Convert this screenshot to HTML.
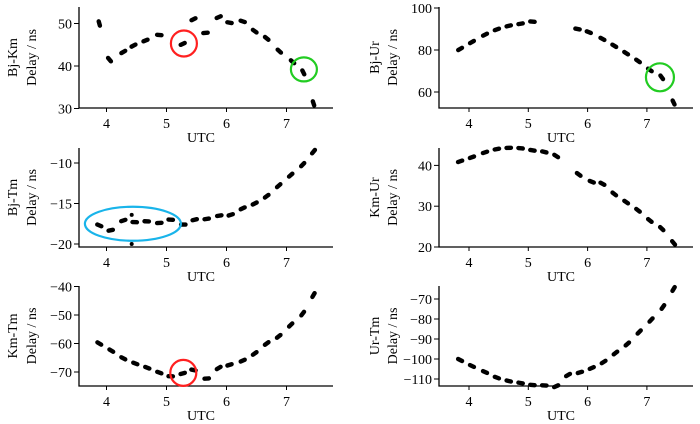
<!DOCTYPE html>
<html><head><meta charset="utf-8"><style>
html,body{margin:0;padding:0;background:#fff;}
svg{display:block;font-family:"Liberation Serif",serif;}
</style></head><body>
<svg id="chart" width="700" height="424" viewBox="0 0 700 424"></svg>
<script>
const xTicks=[4,5,6,7];
const bjKmX=[3.88,4.05,4.28,4.45,4.65,4.88,5.27,5.45,5.65,5.87,6.05,6.27,6.47,6.67,6.88,7.1,7.28,7.45];
const bjKmY=[50,41.5,43.3,44.8,46,47.3,45.2,51,47.8,51.5,50.2,50.5,48.2,46.5,43.5,41,38.5,31.2];
const bjTmX=[3.88,4.07,4.28,4.47,4.67,4.88,5.07,5.28,5.47,5.67,5.88,6.07,6.27,6.47,6.67,6.87,7.07,7.27,7.45];
const bjTmY=[-17.7,-18.3,-17.1,-17.3,-17.2,-17.4,-17,-17.6,-17,-16.9,-16.5,-16.4,-15.6,-15,-14.1,-12.8,-11.5,-10.2,-8.6];
const bjTmDotX=[4.42,4.42];
const bjTmDotY=[-16.4,-20];
const kmTmX=[3.88,4.08,4.28,4.48,4.68,4.88,5.07,5.27,5.45,5.67,5.87,6.05,6.27,6.47,6.67,6.87,7.07,7.27,7.45];
const kmTmY=[-60,-62.5,-65.2,-67,-68.5,-70.2,-71.5,-70.5,-69.3,-72.3,-68.6,-67.5,-66,-63.5,-60,-57.5,-53.5,-49.5,-43];
const bjUrX=[3.85,4.05,4.27,4.47,4.67,4.87,5.07,5.83,6.02,6.25,6.45,6.65,6.85,7.05,7.25,7.45];
const bjUrY=[80.5,83.8,87.3,89.8,91.5,92.5,93.5,90,88.5,85.3,82,78.5,74.8,70.5,67,55];
const kmUrX=[3.85,4.05,4.27,4.47,4.67,4.87,5.07,5.27,5.47,5.85,6.07,6.25,6.45,6.65,6.85,7.05,7.25,7.45];
const kmUrY=[41,42,43.2,44,44.3,44.2,43.7,43.3,42.3,37.8,36,35.5,33,31,29,26.5,24.5,21];
const urTmX=[3.85,4.05,4.27,4.47,4.67,4.87,5.07,5.27,5.47,5.67,5.87,6.07,6.27,6.47,6.67,6.87,7.07,7.27,7.45];
const urTmY=[-100.5,-103.5,-106.5,-109.3,-111,-112,-113,-113.2,-113.6,-108,-106.7,-104.5,-101.5,-97,-92.5,-86.5,-80.5,-74,-65];
const ticksBjKm=[30,40,50];
const ticksBjTm=[-20,-15,-10];
const ticksKmTm=[-70,-60,-50,-40];
const ticksBjUr=[60,80,100];
const ticksKmUr=[20,30,40];
const ticksUrTm=[-110,-100,-90,-80,-70];

const NS='http://www.w3.org/2000/svg';
const svg=document.getElementById('chart');
function mk(tag,attrs,parent){const e=document.createElementNS(NS,tag);for(const k in attrs)e.setAttribute(k,attrs[k]);(parent||svg).appendChild(e);return e;}

function panel(o){
  const g=mk('g',{});
  
  
  const sx=v=>o.x0+(v-4)*o.xs;
  const sy=v=>o.yb-(v-o.vb)*o.ys;
  const ax=mk('path',{d:`M${o.left} ${o.top} V${o.bottom} H${o.right}`,stroke:'#000','stroke-width':1.3,fill:'none'},g);
  
  
  xTicks.forEach(t=>{
    const X=sx(t);
    mk('line',{x1:X,y1:o.bottom,x2:X,y2:o.bottom+4,stroke:'#000','stroke-width':1},g);
    const tx=mk('text',{x:X,y:o.bottom+20,'font-size':14,'text-anchor':'middle'},g);
    tx.textContent=t;
    
    
  });
  o.yt.forEach(t=>{
    const Y=sy(t);
    mk('line',{x1:o.left-5,y1:Y,x2:o.left,y2:Y,stroke:'#000','stroke-width':1},g);
    const tx=mk('text',{x:o.left-7,y:Y+5,'font-size':14,'text-anchor':'end'},g);
    tx.textContent=(t<0?'\u2212'+(-t):t);
    
    
  });
  const xl=mk('text',{x:(o.left+o.right)/2-5,y:o.bottom+34,'font-size':14,'text-anchor':'middle'},g);
  xl.textContent='UTC';
  
  
  const cy=(o.top+o.bottom)/2;
  const l1=mk('text',{x:0,y:0,'font-size':14,'text-anchor':'middle',transform:`translate(${o.lx1},${cy}) rotate(-90)`},g);
  l1.textContent=o.label;
  
  
  const l2=mk('text',{x:0,y:0,'font-size':14,'text-anchor':'middle',transform:`translate(${o.lx2},${cy}) rotate(-90)`},g);
  l2.textContent='Delay / ns';
  
  
  const P=o.xd.map((v,i)=>[sx(v),sy(o.yd[i])]);
  P.forEach((p,i)=>{
    const a=P[Math.max(0,i-1)],b=P[Math.min(P.length-1,i+1)];
    let dx=b[0]-a[0],dy=b[1]-a[1];const L=Math.hypot(dx,dy)||1;dx/=L;dy/=L;
    const h=2.2;
    const m=mk('line',{x1:p[0]-dx*h,y1:p[1]-dy*h,x2:p[0]+dx*h,y2:p[1]+dy*h,stroke:'#000','stroke-width':4.4,'stroke-linecap':'round'},g);
    
    
  });
  if(o.dx){o.dx.forEach((v,i)=>{
    const d=mk('circle',{cx:sx(v),cy:sy(o.dy[i]),r:2,fill:'#000'},g);
    
    
  });}
  (o.marks||[]).forEach(c=>{
    const e=mk('ellipse',{cx:sx(c.x),cy:sy(c.y),rx:c.rx,ry:c.ry,fill:'none',stroke:c.col,'stroke-width':2.2},g);
    
    
  });
}
const L={left:79,right:333,x0:106.5,xs:60,lx1:17,lx2:36};
const R={left:439,right:693,x0:469,xs:59.3,lx1:379,lx2:397};
panel(Object.assign({},L,{name:'bj-km',label:'Bj-Km',top:7,bottom:108,yb:108.5,vb:30,ys:4.25,yt:ticksBjKm,xd:bjKmX,yd:bjKmY,
  marks:[{x:5.29,y:45.3,rx:13,ry:13,col:'#ff2020',nm:'red-circle-highlight'},{x:7.29,y:39.2,rx:13,ry:12,col:'#22cc22',nm:'green-circle-highlight'}]}));
panel(Object.assign({},L,{name:'bj-tm',label:'Bj-Tm',top:148,bottom:247,yb:244,vb:-20,ys:8.1,yt:ticksBjTm,xd:bjTmX,yd:bjTmY,dx:bjTmDotX,dy:bjTmDotY,
  marks:[{x:4.44,y:-17.5,rx:48,ry:17,col:'#19b4ea',nm:'blue-ellipse-highlight'}]}));
panel(Object.assign({},L,{name:'km-tm',label:'Km-Tm',top:286,bottom:386,yb:372,vb:-70,ys:2.85,yt:ticksKmTm,xd:kmTmX,yd:kmTmY,
  marks:[{x:5.28,y:-70.3,rx:13,ry:13,col:'#ff2020',nm:'red-circle-highlight'}]}));
panel(Object.assign({},R,{name:'bj-ur',label:'Bj-Ur',top:7,bottom:108,yb:92,vb:60,ys:2.1,yt:ticksBjUr,xd:bjUrX,yd:bjUrY,
  marks:[{x:7.22,y:67,rx:14,ry:14,col:'#22cc22',nm:'green-circle-highlight'}]}));
panel(Object.assign({},R,{name:'km-ur',label:'Km-Ur',top:148,bottom:247,yb:247,vb:20,ys:4.08,yt:ticksKmUr,xd:kmUrX,yd:kmUrY}));
panel(Object.assign({},R,{name:'ur-tm',label:'Ur-Tm',top:286,bottom:386,yb:379,vb:-110,ys:2.0,yt:ticksUrTm,xd:urTmX,yd:urTmY}));
</script>
</body></html>
